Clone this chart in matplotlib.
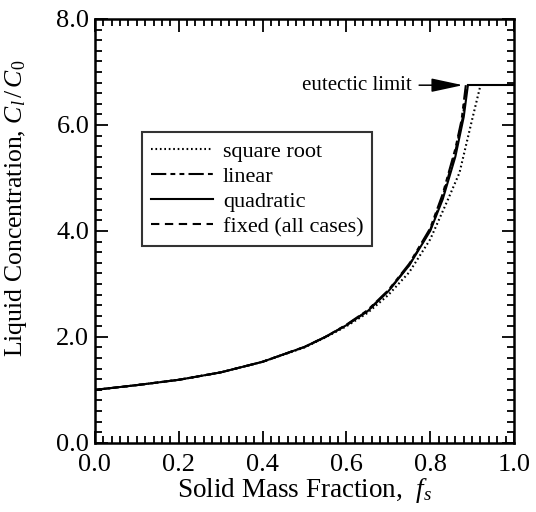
import matplotlib
matplotlib.use("Agg")
import matplotlib.pyplot as plt
from matplotlib.ticker import MultipleLocator, FormatStrFormatter

plt.rcParams["font.family"] = ["Liberation Serif", "DejaVu Serif"]
plt.rcParams["mathtext.fontset"] = "custom"
plt.rcParams["mathtext.rm"] = "Liberation Serif"
plt.rcParams["mathtext.it"] = "Liberation Serif:italic"
plt.rcParams["lines.scale_dashes"] = False

# values
eutectic = 6.75

fs_sqrt = [0.0, 0.1, 0.2, 0.3, 0.4, 0.5, 0.55, 0.6, 0.65, 0.7, 0.75, 0.8, 0.84, 0.87, 0.9, 0.92]
cl_sqrt = [1.0, 1.09, 1.19, 1.33, 1.53, 1.80, 1.99, 2.20, 2.45, 2.79, 3.22, 3.84, 4.55, 5.1, 6.1, 6.75]

fs_lin = [0.0, 0.1, 0.2, 0.3, 0.4, 0.5, 0.55, 0.6, 0.65, 0.7, 0.75, 0.8, 0.83, 0.86, 0.875, 0.885]
cl_lin = [1.0, 1.09, 1.19, 1.33, 1.53, 1.81, 2.0, 2.23, 2.50, 2.88, 3.38, 4.05, 4.7, 5.55, 6.1, 6.75]

fs_quad = [0.0, 0.1, 0.2, 0.3, 0.4, 0.5, 0.55, 0.6, 0.65, 0.7, 0.75, 0.8, 0.83, 0.86, 0.88, 0.89]
cl_quad = [1.0, 1.09, 1.19, 1.33, 1.53, 1.81, 2.0, 2.22, 2.48, 2.86, 3.35, 4.0, 4.6, 5.4, 6.15, 6.75]

fs_fix = [0.0, 0.1, 0.2, 0.3, 0.4, 0.5, 0.55, 0.6, 0.65, 0.7, 0.75, 0.8, 0.83, 0.86, 0.878, 0.887]
cl_fix = [1.0, 1.09, 1.19, 1.33, 1.53, 1.81, 2.0, 2.22, 2.49, 2.87, 3.36, 4.02, 4.65, 5.5, 6.15, 6.75]

fig = plt.figure(figsize=(5.36, 5.12), dpi=100)
ax = fig.add_axes([0.177, 0.135, 0.782, 0.828])

lw = 1.5
ax.plot(fs_sqrt, cl_sqrt, color="black", lw=lw, dashes=(1.2, 2.0), label="square root")
ax.plot(fs_lin, cl_lin, color="black", lw=lw, dashes=(11, 3, 3.5, 3, 3.5, 3), label="linear")
ax.plot(fs_quad, cl_quad, color="black", lw=lw, label="quadratic")
ax.plot(fs_fix, cl_fix, color="black", lw=lw, dashes=(6, 4), label="fixed (all cases)")
ax.plot([fs_quad[-1], 1.0], [eutectic, eutectic], color="black", lw=lw)

ax.annotate("eutectic limit", xy=(0.878, eutectic), xytext=(0.757, eutectic),
            ha="right", va="center", fontsize=15,
            arrowprops=dict(arrowstyle="-|>,head_length=1.3,head_width=0.28",
                            color="black", lw=1.1, shrinkA=3, shrinkB=0))

ax.set_xlim(0, 1)
ax.set_ylim(0, 8)
ax.xaxis.set_major_locator(MultipleLocator(0.2))
ax.xaxis.set_minor_locator(MultipleLocator(0.02))
ax.yaxis.set_major_locator(MultipleLocator(2.0))
ax.yaxis.set_minor_locator(MultipleLocator(0.2))
ax.xaxis.set_major_formatter(FormatStrFormatter("%.1f"))
ax.yaxis.set_major_formatter(FormatStrFormatter("%.1f"))
ax.tick_params(which="both", direction="in", top=True, right=True, width=1.3,
               labelsize=19)
ax.tick_params(axis="x", which="major", pad=8)
ax.tick_params(axis="y", which="major", pad=4)
ax.tick_params(which="major", length=9)
ax.tick_params(which="minor", length=5)
for s in ax.spines.values():
    s.set_linewidth(1.8)

ax.set_xlabel(r"Solid Mass Fraction,  $f_s$", fontsize=19.5, labelpad=0)
ax.set_ylabel(r"Liquid Concentration, $C_l\,/\,C_0$", fontsize=18.5)
ax.yaxis.set_label_coords(-0.157, 0.554)

leg = ax.legend(loc="upper left", bbox_to_anchor=(0.112, 0.733), fontsize=16,
                handlelength=2.8, handletextpad=0.45, labelspacing=0.21,
                borderpad=0.4, borderaxespad=0, frameon=True, fancybox=False)
leg.get_frame().set_edgecolor("black")
leg.get_frame().set_linewidth(1.5)

fig.savefig("out.png", dpi=100)
